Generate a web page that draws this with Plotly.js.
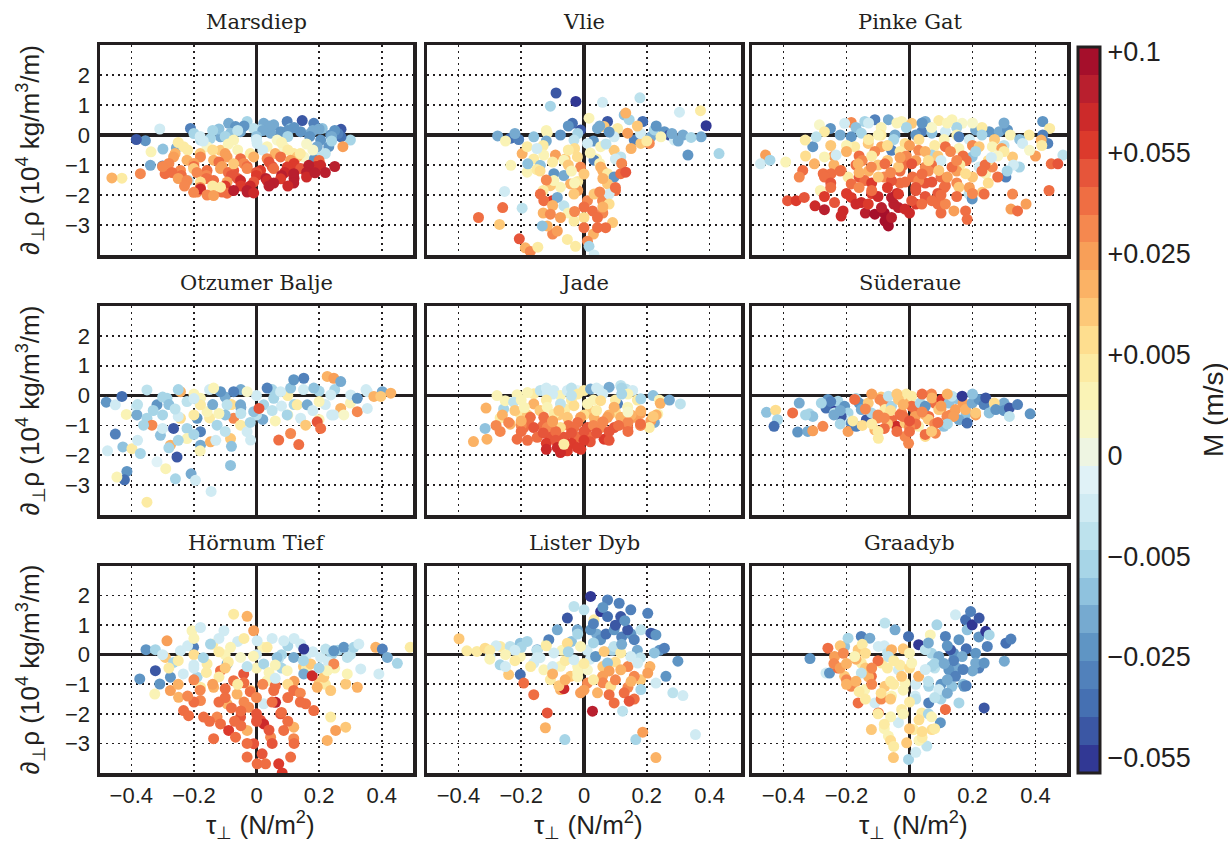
<!DOCTYPE html>
<html>
<head>
<meta charset="utf-8">
<script src="https://cdn.plot.ly/plotly-3.0.1.min.js"></script>
<style>html,body{margin:0;padding:0;background:#fff;}#chart{width:1228px;height:842px;}</style>
</head>
<body>
<div id="chart"></div>
<script>
// ---------------- DATA (tau_perp in N/m^2, d_perp rho in 1e4 kg/m3/m, colour level on colourbar scale) ----------------
const panelNames = ['Marsdiep','Vlie','Pinke Gat','Otzumer Balje','Jade','Süderaue','Hörnum Tief','Lister Dyb','Graadyb'];
// colourbar: level -3..4 correspond to these M values (m/s)
const cbLevels = [-3,-2,-1,0,1,2,3,4];
const cbLabels = ['\u22120.055','\u22120.025','\u22120.005','0','+0.005','+0.025','+0.055','+0.1'];
const bandColors = ['#a50f2b','#b91f2e','#cc2a2a','#dc3a2c','#e6553a','#ef6e43','#f5884f','#f89f58','#fbb265','#fdc878','#fede8f','#fceba3','#faf3b6','#f7f6c8','#eef5e2','#e0f2f7','#d0ebf3','#bde2ed','#a7d5e7','#8fc2de','#76aad0','#5f95c4','#5181bb','#4570b2','#3b57a4','#313894'];
const xTickVals = [-0.4,-0.2,0,0.2,0.4];
const xTickText = ['\u22120.4','\u22120.2','0','0.2','0.4'];
const yTickVals = [-3,-2,-1,0,1,2];
const yTickText = ['\u22123','\u22122','\u22121','0','1','2'];

const marsX = [-0.089,-0.067,-0.030,0.023,0.055,0.098,0.146,0.183,0.21,0.27,
 0.30,0.27,0.237,0.205,0.173,0.141,0.109,0.077,0.045,0.013,
 -0.009,-0.051,-0.083,-0.115,-0.147,-0.179,-0.211,-0.309,-0.355,-0.384,
 -0.299,-0.256,-0.339,-0.30,-0.217,0.189,0.194,0.183,0.231,
 -0.2,-0.12,-0.04,0.04,0.12,0.2,0.26,
 -0.14,-0.06,0.02,0.1,0.18,0.25,
 -0.18,-0.1,0.0,0.1,0.17,0.24,
 -0.073,0.002,0.034,0.087,0.119,0.151,-0.233,-0.158,-0.115,0.066,0.13,-0.337,-0.43,-0.462,-0.371,-0.292,0.276,
 -0.25,-0.17,-0.09,0.0,0.08,0.16,0.24,
 -0.22,-0.14,-0.06,0.02,0.1,0.18,
 -0.26,-0.18,-0.1,-0.02,0.06,0.14,0.22,
 -0.265,-0.222,-0.179,-0.137,-0.094,-0.051,-0.009,0.034,0.077,0.109,
 -0.28,-0.2,-0.12,-0.04,0.04,0.12,0.2,
 -0.3,-0.2,-0.11,-0.03,0.05,0.12,0.19,0.25,
 -0.243,-0.201,-0.158,-0.115,-0.073,-0.030,0.013,0.055,0.098,0.141,0.167,0.205,
 -0.27,-0.19,-0.09,0.0,0.09,0.16,0.22,
 -0.24,-0.16,-0.08,0.0,0.08,0.16,
 -0.25,-0.16,-0.06,0.03,0.12,
 -0.222,-0.179,-0.137,-0.094,-0.051,-0.009,0.034,0.077,0.119,0.187,0.119,0.055,
 -0.23,-0.14,-0.05,0.04,0.1,
 -0.18,-0.1,-0.02,
 -0.19,-0.11,-0.03,
 -0.179,-0.158,-0.137,-0.094,-0.073,-0.030,-0.009,-0.115,-0.201,-0.073];
const marsY = [0.39,0.28,0.45,0.39,0.34,0.45,0.48,0.39,0.22,0.19,
 -0.17,-0.06,0.0,-0.17,0.06,0.11,0.22,0.11,0.06,0.17,
 0.22,0.11,0.06,-0.06,-0.11,-0.17,0.22,0.2,-0.19,-0.15,
 -0.47,-0.43,-1.01,-1.03,-1.52,-0.62,-0.39,-0.82,-0.39,
 0.05,0.2,0.3,0.3,0.25,0.2,0.05,
 0.15,0.15,0.15,0.15,0.15,0.15,
 -0.05,-0.05,-0.05,-0.05,-0.05,-0.05,
 -0.17,-0.28,-0.39,-0.39,-0.62,-0.73,-0.39,-0.39,-0.51,-0.17,-0.73,-0.56,-1.44,-1.43,-1.29,-1.29,-0.39,
 -0.25,-0.2,-0.3,-0.15,-0.25,-0.3,-0.2,
 -0.5,-0.5,-0.5,-0.5,-0.5,-0.5,
 -0.62,-0.62,-0.62,-0.62,-0.62,-0.62,-0.62,
 -0.73,-0.84,-0.73,-0.84,-0.73,-0.79,-0.73,-0.79,-0.73,-0.84,
 -0.95,-0.95,-0.9,-0.95,-0.9,-0.95,-0.85,
 -1.05,-1.05,-1.05,-1.05,-1.05,-1.05,-1.05,-1.05,
 -1.18,-1.12,-1.18,-1.12,-1.18,-1.12,-1.18,-1.12,-1.07,-1.12,-1.01,-1.01,
 -1.25,-1.25,-1.25,-1.25,-1.25,-1.25,-1.25,
 -1.35,-1.35,-1.35,-1.35,-1.35,-1.4,
 -1.45,-1.45,-1.45,-1.45,-1.45,
 -1.52,-1.57,-1.52,-1.57,-1.52,-1.57,-1.52,-1.46,-1.29,-1.26,-1.6,-1.6,
 -1.7,-1.7,-1.7,-1.7,-1.7,
 -1.75,-1.7,-1.7,
 -1.9,-1.9,-1.9,
 -1.8,-2.0,-2.02,-1.94,-1.85,-1.85,-1.93,-1.74,-1.91,-0.96];
const marsC = [-1.5,-1.8,-1.2,-1.7,-1.5,-2.2,-2.8,-2.3,-1.3,-2.7,
 -1.0,-2.4,-2.0,-1.8,-1.6,-2.0,-1.4,-1.9,-1.6,-1.2,
 -0.8,-1.7,-1.3,-1.6,-1.2,-0.8,-2.2,-0.6,-1.9,-2.6,
 -1.4,-1.5,-1.5,-2.3,-0.7,-0.8,-1.6,-2.0,-1.9,
 -1.0,-1.4,-1.8,-1.5,-2.0,-1.7,-2.2,
 -1.2,-0.8,-1.5,-2.0,-1.7,-2.0,
 -0.6,-1.0,-1.4,-1.2,-1.9,-1.6,
 0.6,-0.4,0.5,0.3,0.8,0.4,1.0,0.4,1.3,0.2,1.5,0.6,0.8,1.8,2.2,2.4,2.0,
 0.8,-0.5,0.6,-0.6,0.5,0.3,-1.2,
 0.8,1.2,0.6,-0.6,0.9,0.4,
 1.8,1.5,2.0,1.0,1.6,0.8,-0.8,
 2.0,1.6,2.3,1.8,2.1,2.5,1.7,2.3,2.6,2.0,
 2.2,2.0,2.5,2.3,2.8,3.0,2.6,
 2.2,2.4,2.0,2.6,2.8,3.0,3.3,3.6,
 2.3,1.5,2.6,2.0,2.8,2.2,3.0,2.5,3.2,2.7,3.5,3.3,
 2.5,2.2,2.4,2.8,3.3,3.5,3.7,
 2.4,2.2,2.7,3.2,3.5,3.3,
 2.0,2.6,2.8,3.5,3.7,
 2.2,1.2,2.4,2.0,3.3,2.8,3.4,3.0,3.6,3.7,3.7,3.6,
 2.3,1.0,3.0,3.6,3.4,
 2.3,3.0,3.4,
 2.2,2.5,3.6,
 3.3,2.3,2.0,2.5,3.5,3.6,3.4,1.0,2.3,1.5];

const vlieX = [-0.089,-0.026,-0.107,0.059,0.178,0.371,0.304,0.389,0.43,0.331,
 0.373,-0.275,-0.235,-0.208,-0.16,-0.117,-0.075,-0.037,-0.011,0.016,
 0.043,0.075,0.107,0.128,0.144,0.16,0.187,0.213,0.224,0.256,
 0.272,0.288,0.315,0.341,0.133,0.064,0.096,0.139,0.181,0.208,
 -0.22,-0.12,-0.02,0.08,0.18,0.28,
 -0.05,0.05,0.17,0.23,
 -0.25,-0.12,0.03,0.2,0.3,
 0.245,-0.032,0.011,0.053,0.096,0.117,-0.197,-0.181,-0.233,-0.181,
 -0.13,-0.03,0.07,0.15,
 -0.16,-0.06,0.04,0.1,
 -0.179,-0.139,-0.128,-0.091,-0.064,-0.096,-0.064,-0.021,-0.011,0.032,
 -0.15,-0.05,0.05,0.12,
 -0.14,-0.04,0.06,
 0.053,0.075,0.096,0.117,0.133,0.075,-0.043,-0.075,-0.107,-0.096,
 -0.12,-0.02,0.06,
 -0.13,-0.02,0.1,
 -0.139,-0.101,-0.128,-0.085,-0.064,-0.032,0.011,0.032,0.059,0.08,
 -0.1,0.0,0.08,
 -0.13,-0.05,0.06,
 -0.1,0.03,
 0.027,0.043,0,-0.032,-0.075,-0.107,-0.117,-0.085,-0.053,-0.027,
 0.011,0.016,0.032,0.091,0.069,0.043,0,-0.336,-0.269,-0.259,
 -0.253,-0.197,-0.206,-0.187,-0.171,-0.147,-0.133,-0.15,-0.05,0.02,
 -0.1,0,0.05,-0.03,0.1,0.06,-0.03];
const vlieY = [1.40,1.12,0.96,1.09,1.24,0.81,0.76,0.31,-0.62,-0.67,
 -0.06,-0.03,-0.11,-0.15,-0.06,0.06,0,0.39,0.17,0.56,
 0.22,0.45,0.22,0.67,0.51,-0.17,0.45,-0.06,0.17,0.11,
 0,-0.17,0,-0.08,0.73,0.28,-0.06,0.06,-0.28,-0.28,
 0.05,0.15,0.05,0.1,0.05,0.05,
 0.3,0.3,0.3,0.3,
 -0.2,-0.2,-0.2,-0.2,-0.2,
 -0.06,-0.17,-0.28,-0.39,-0.51,-0.73,-0.62,-0.39,-1.01,-1.24,
 -0.35,-0.45,-0.3,-0.45,
 -0.8,-0.8,-0.8,-0.8,
 -0.96,-1.01,-0.67,-0.67,-0.84,-1.29,-1.35,-0.73,-1.07,-0.84,
 -1.15,-1.0,-0.95,-0.95,
 -1.2,-1.2,-1.2,
 -1.07,-1.29,-1.4,-1.29,-1.24,-1.63,-1.63,-1.74,-1.69,-1.52,
 -1.5,-1.55,-1.45,
 -1.85,-1.85,-1.85,
 -1.97,-2.19,-2.19,-2.08,-2.36,-1.97,-2.19,-1.97,-2.19,-1.97,
 -2.35,-2.4,-2.3,
 -2.6,-2.6,-2.6,
 -3.3,-3.3,
 -2.53,-2.75,-2.75,-2.87,-2.75,-2.64,-3.03,-3.2,-3.48,-3.71,
 -3.54,-3.71,-4.0,-2.92,-3.09,-3.09,-3.09,-2.75,-2.98,-2.42,
 -1.88,-2.44,-3.46,-3.76,-3.88,-3.74,-3.03,-0.45,-0.5,-0.6,
 -0.9,-1.3,-1.9,-1.6,-1.75,-2.4,-2.55];
const vlieC = [-2.8,-3.0,-1.0,-0.6,-0.9,0.8,-0.4,-3.0,-1.0,-1.8,
 -1.5,-1.7,-2.5,-2.3,-1.3,0.7,-1.8,-2.4,-2.6,0.6,
 -1.5,-2.7,0.8,-1.4,-1.0,-2.2,-2.5,-1.6,-1.0,-2.0,
 -2.8,-0.4,-1.7,-1.2,1.8,1.3,-0.5,2.0,1.4,2.3,
 -1.5,0.6,-1.2,-2.0,-0.6,-1.5,
 -2.0,-1.5,1.5,-1.8,
 0.6,-1.5,-2.0,1.0,-1.6,
 0.5,-0.8,-0.5,0.6,1.5,-0.8,1.8,0.9,0.7,0.6,
 0.8,1.2,-0.8,1.8,
 0.8,1.5,0.6,-0.6,
 -1.4,-1.3,0.7,2.1,0.5,-2.0,-1.5,1.2,2.2,-2.2,
 1.0,1.5,0.6,2.3,
 1.2,0.6,1.8,
 1.6,0.8,-2.0,2.6,2.7,1.5,1.8,0.6,1.5,0.5,
 2.2,0.8,1.8,
 0.8,2.0,2.4,
 2.4,3.0,2.5,-1.5,-0.7,1.3,2.2,1.5,2.3,-0.6,
 1.6,2.4,1.2,
 1.6,0.6,2.2,
 2.2,1.6,
 2.4,2.5,1.2,1.0,2.0,2.3,1.6,2.1,0.8,0.9,
 2.3,-1.0,-0.6,1.4,2.4,2.6,2.6,2.4,1.3,2.5,
 -0.6,-0.9,2.8,1.8,2.2,1.0,-1.3,-0.6,1.0,0.7,
 1.0,1.4,2.2,0.6,2.4,1.8,2.3];

const pinkX = [-0.286,-0.251,-0.27,-0.307,-0.296,-0.331,-0.185,-0.206,-0.142,-0.11,
 -0.067,-0.025,0.007,0.05,0.093,0.135,0.167,0.21,0.253,0.285,
 0.311,0.423,0.445,0.423,0.439,0.418,0.487,0.039,0.071,0.114,
 -0.17,-0.09,-0.01,0.07,0.15,0.23,
 -0.13,-0.04,0.04,0.12,0.2,0.3,
 -0.22,-0.09,0.02,0.15,0.23,0.32,0.38,
 0.157,-0.046,-0.099,-0.153,-0.185,-0.174,-0.131,-0.089,-0.057,-0.014,
 -0.13,-0.05,0.03,0.11,0.19,0.27,0.35,
 -0.25,-0.2,-0.07,0.0,0.08,0.2,0.3,0.42,
 0.029,0.071,0.114,0.157,0.199,0.221,0.263,0.293,0.327,0.359,
 -0.2,-0.11,-0.03,0.05,0.13,0.21,0.3,
 -0.33,-0.24,-0.16,-0.01,0.09,0.17,0.28,0.4,
 0.381,0.349,0.306,0.242,0.221,0.263,-0.457,-0.473,-0.443,-0.393,
 -0.15,-0.07,0.02,0.1,0.18,0.25,
 -0.24,-0.17,-0.1,-0.02,0.07,0.16,0.24,0.33,
 -0.339,-0.302,-0.27,-0.233,-0.274,-0.249,-0.283,-0.217,-0.195,-0.163,
 -0.22,-0.13,-0.03,0.06,0.15,0.23,0.31,
 -0.35,-0.27,-0.16,-0.08,0.01,0.1,0.2,0.28,
 -0.121,-0.078,-0.035,0.007,0.05,0.093,0.135,0.178,-0.185,-0.142,
 -0.25,-0.12,-0.03,0.05,0.15,0.25,
 -0.099,-0.057,-0.014,0.029,0.071,0.114,0.157,0.189,0.199,0.231,
 -0.25,-0.16,-0.07,0.02,0.11,0.19,
 -0.2,-0.12,-0.04,0.09,0.2,
 0.237,-0.387,-0.36,-0.334,-0.3,-0.27,-0.238,-0.211,-0.217,-0.185,
 -0.27,-0.1,0.05,0.15,
 -0.17,-0.05,0.02,0.09,
 -0.14,-0.08,0.0,0.1,
 -0.153,-0.131,-0.11,-0.089,-0.078,-0.067,-0.057,-0.035,-0.014,-0.057,
 -0.035,0.007,0.039,0.071,0.114,0.141,0.178,0.183,0.327,0.322,
 0.343,0.37,0.443,0.45,0.471,-0.12,-0.03,0.06,0.15,-0.16,
 -0.06,0.04,0.12,-0.12,0.02,0.1,0.26];
const pinkY = [0.34,0.22,0.11,-0.39,-0.06,-0.17,0.42,0.39,0.45,0.51,
 0.51,0.45,0.39,0.45,0.48,0.51,0.39,0.17,0.11,0.11,
 0.17,0.45,0.22,0,-0.28,-0.17,-0.67,0.11,0.06,0.11,
 0.25,0.25,0.25,0.25,0.25,0.25,
 0.4,0.4,0.4,0.4,0.4,0.4,
 0.0,0.0,0.0,0.0,0.0,0.0,0.0,
 -0.06,0,0,0.06,-0.06,-0.39,-0.28,-0.39,-0.51,-0.28,
 -0.15,-0.15,-0.15,-0.15,-0.15,-0.15,-0.15,
 -0.35,-0.35,-0.35,-0.35,-0.35,-0.35,-0.35,-0.35,
 -0.51,-0.67,-0.39,-0.45,-0.73,-0.39,-0.39,-0.45,-0.73,-0.28,
 -0.55,-0.55,-0.55,-0.55,-0.55,-0.55,-0.55,
 -0.7,-0.7,-0.7,-0.7,-0.7,-0.7,-0.7,-0.7,
 -0.51,-1.07,-1.4,-1.29,-1.07,-1.07,-0.67,-0.96,-0.84,-0.9,
 -0.85,-0.85,-0.85,-0.85,-0.85,-0.85,
 -1.0,-1.0,-1.0,-1.0,-1.0,-1.0,-1.0,-1.0,
 -1.18,-0.96,-0.73,-0.67,-1.29,-1.29,-1.85,-1.18,-1.4,-0.96,
 -1.2,-1.2,-1.2,-1.2,-1.2,-1.2,-1.2,
 -1.4,-1.4,-1.4,-1.4,-1.4,-1.4,-1.4,-1.4,
 -1.07,-0.96,-1.07,-0.96,-1.07,-1.18,-1.07,-1.29,-1.63,-1.52,
 -1.6,-1.6,-1.6,-1.6,-1.6,-1.6,
 -1.4,-1.52,-1.57,-1.52,-1.57,-1.69,-1.74,-1.97,-2.13,-1.91,
 -1.75,-1.75,-1.75,-1.75,-1.75,-1.75,
 -1.95,-1.95,-1.95,-1.95,-1.95,
 -1.97,-2.19,-2.19,-2.08,-2.36,-2.49,-2.25,-2.53,-2.7,-2.08,
 -2.05,-2.05,-2.05,-2.05,
 -2.3,-2.3,-2.3,-2.3,
 -2.6,-2.6,-2.6,-2.6,
 -2.25,-2.3,-2.64,-2.42,-2.87,-3.03,-2.75,-2.42,-2.47,-2.08,
 -1.97,-2.19,-2.3,-2.19,-2.3,-2.53,-2.53,-2.81,-1.97,-2.47,
 -2.53,-2.3,-1.85,-0.96,-0.96,-0.7,-0.75,-0.85,-0.85,-1.25,
 -1.25,-1.3,-1.4,-1.85,-1.85,-2.0,-0.75];
const pinkC = [0.2,-2.0,0.8,-2.0,-0.8,0.8,2.3,-0.5,-1.2,-2.2,
 -1.5,0.5,1.3,-1.7,1.0,0.6,0.4,-1.5,-1.8,-1.6,
 -2.0,-1.8,1.0,-2.3,-2.2,1.6,-0.8,-2.2,-1.3,-0.5,
 -1.3,0.5,-1.0,0.4,-1.2,0.8,
 -0.5,0.6,-1.8,0.5,0.3,-1.5,
 -1.5,0.8,-2.0,0.6,-1.0,0.5,0.8,
 -2.3,-1.5,0.5,-1.0,-2.0,1.0,1.5,2.0,-2.2,1.2,
 0.8,-1.0,1.2,0.5,-0.6,1.4,-1.4,
 1.5,0.6,1.2,2.0,1.0,2.2,-0.8,1.0,
 2.2,-1.0,2.5,0.6,-1.4,1.3,0.5,2.0,1.5,-0.6,
 1.8,2.3,1.0,1.6,2.2,-1.0,1.0,
 1.2,2.0,2.5,2.2,1.4,2.6,0.4,2.0,
 0.4,-1.0,-2.3,0.5,-0.6,2.3,2.0,-0.6,-1.0,0.5,
 2.2,1.5,2.0,-0.5,2.4,1.2,
 1.8,2.6,1.5,2.4,2.6,0.8,2.4,-0.5,
 2.4,1.7,0.6,-0.4,2.4,2.6,0.7,2.2,0.8,1.7,
 2.5,1.8,2.6,2.2,2.0,2.5,-1.2,
 2.3,2.6,2.8,2.3,2.6,2.4,1.5,2.6,
 2.2,2.5,1.5,2.7,2.2,1.5,2.6,1.2,2.6,2.4,
 2.8,3.0,2.6,2.9,2.3,1.2,
 1.3,2.9,2.5,2.2,2.7,2.5,1.5,-0.7,-2.0,1.4,
 2.6,2.2,3.0,2.7,2.4,2.1,
 3.2,3.0,3.4,2.7,2.2,
 2.4,2.7,3.0,2.8,3.4,3.5,2.9,3.3,3.4,3.2,
 3.2,3.4,2.8,2.5,
 3.3,3.7,3.2,2.6,
 3.5,3.8,3.4,2.5,
 3.3,3.0,3.9,3.5,3.8,3.9,3.7,3.6,3.3,3.5,
 3.0,2.7,2.5,2.4,2.3,2.1,2.6,2.5,2.3,2.0,
 2.6,2.0,2.5,2.6,2.8,1.0,2.0,1.2,2.2,1.8,
 2.3,2.6,2.0,2.6,2.8,2.6,-0.6];

const otzX = [-0.48,-0.451,-0.43,-0.416,-0.384,-0.382,-0.35,-0.35,-0.334,-0.361,
 -0.451,-0.427,-0.476,-0.398,-0.371,-0.414,-0.422,-0.446,-0.35,-0.318,
 -0.29,-0.254,-0.259,-0.209,-0.195,-0.145,-0.083,-0.318,-0.286,-0.243,
 -0.3,-0.2,-0.1,0.0,0.1,0.2,0.3,
 -0.25,-0.15,-0.05,0.05,0.15,0.25,0.35,
 -0.222,-0.179,-0.307,-0.265,-0.275,-0.243,-0.222,-0.222,-0.19,-0.179,
 -0.33,-0.25,-0.15,-0.05,0.08,0.2,
 -0.38,-0.28,-0.18,-0.08,0.12,0.22,
 -0.179,-0.147,-0.158,-0.126,-0.115,-0.094,-0.083,-0.073,-0.051,-0.03,
 -0.3,-0.2,-0.1,0.02,-0.28,-0.18,-0.08,
 -0.3,-0.2,-0.1,0.0,0.1,0.24,
 -0.38,-0.25,-0.13,
 -0.019,-0.051,-0.03,-0.009,-0.073,-0.137,-0.179,0.023,0.008,0.034,
 0.055,0.077,0.098,0.109,0.119,0.151,0.13,0.141,0.157,0.183,
 0.194,0.205,0.162,0.109,0.135,0.071,0.226,0.247,0.269,0.237,
 0.269,0.247,0.279,0.301,0.322,0.322,0.354,0.354,0.375,0.402,
 0.429,0.397,-0.26,-0.2,-0.12,-0.05,0.05,0.06,0.18,0.2,
 -0.02,-0.14];
const otzY = [-0.22,-0.31,-0.03,-0.63,-0.37,-0.65,0.19,-0.76,-0.99,-0.99,
 -1.29,-1.72,-1.85,-1.78,-1.94,-2.54,-2.82,-2.73,-3.57,-2.22,
 -2.45,-2.06,-2.79,-2.62,-2.84,-3.21,-2.34,-0.31,-0.09,0.13,
 -0.05,0.05,-0.05,0.0,0.0,0.15,-0.25,
 0.2,0.2,0.2,0.2,0.2,0.2,0.2,
 -0.2,-0.09,-1.33,-1.1,-1.66,-0.76,-1.1,-1.44,-0.76,-1.21,
 -0.5,-0.7,-0.75,-0.4,-0.35,-0.8,
 -0.3,-0.3,-0.3,-0.3,-0.3,-0.3,
 -1.66,-1.55,-0.54,-0.99,0.13,-0.31,-1.44,-0.76,-0.99,-1.21,
 -1.1,-1.3,-1.2,-0.8,-1.75,-1.85,-1.7,
 -0.65,-0.65,-0.65,-0.65,-0.65,-0.65,
 -1.5,-1.5,-1.5,
 -1.49,-0.31,0.13,-0.54,0.13,0.25,-0.31,-0.31,-0.43,0.25,
 -0.09,0.13,-0.65,0.25,0.53,0.58,-0.31,-0.76,-0.99,0.25,
 -0.88,-1.1,-0.31,-1.27,-1.64,-1.49,0.64,0.58,0.47,0.02,
 -0.43,-0.65,-0.65,0.02,-0.54,-0.09,-0.43,0.13,-0.03,0.13,
 0.08,-0.03,-0.45,-0.1,-0.6,-0.6,-0.5,-0.85,-0.5,-0.2,
 -0.9,-0.3];
const otzC = [-2.0,-0.6,-2.5,0.5,-0.5,-1.5,-0.8,-1.2,2.2,-1.0,
 -2.3,-1.3,-0.5,0.8,-1.0,-2.0,-2.4,0.6,0.8,-0.3,
 0.7,-2.6,-1.0,-1.6,-0.6,-0.6,-1.4,-1.8,-1.2,1.6,
 -1.0,0.5,-1.5,-0.6,0.8,-1.0,0.5,
 -1.0,-0.6,-1.6,-1.2,-0.5,-1.0,-0.6,
 -0.8,0.5,-1.4,-2.6,1.8,1.2,-1.0,0.5,-1.8,-2.3,
 -1.2,-0.5,0.9,-1.6,-0.5,0.6,
 -0.8,-1.4,-0.6,1.2,-1.0,-0.6,
 -1.6,1.7,0.6,-1.2,-2.0,-0.8,1.5,2.2,0.8,-0.5,
 -0.5,-1.2,-0.7,-1.5,-1.0,0.6,-1.4,
 -1.0,0.8,-1.4,-0.8,0.6,-0.6,
 -0.6,-1.2,-0.5,
 -0.6,-1.5,0.4,-1.3,-2.2,0.6,1.0,-1.0,2.7,-2.3,
 -1.2,-0.6,-1.0,-1.3,-2.0,-2.3,0.8,-0.4,1.5,-1.4,
 2.7,2.5,-1.7,2.3,2.6,2.4,1.8,2.0,-1.5,-0.5,
 1.7,-0.5,0.3,-0.4,2.3,-2.0,-0.6,-0.6,1.6,-1.7,
 1.6,1.3,-0.7,-0.5,0.5,-0.7,-0.8,0.7,-0.6,0.6,
 -1.0,-1.5];

const jadeX = [-0.352,-0.309,-0.315,-0.312,-0.267,-0.267,-0.256,-0.277,-0.251,-0.213,
 -0.224,-0.213,-0.235,-0.203,-0.192,-0.16,-0.139,-0.117,-0.096,-0.075,
 -0.053,-0.021,0,0.021,0.053,0.08,0.117,0.133,0.155,0.107,
 -0.12,-0.04,0.04,0.12,
 -0.18,-0.1,-0.02,0.06,0.14,0.22,
 -0.2,-0.12,-0.04,0.03,0.1,0.17,0.24,
 0.181,0.243,0.272,0.307,0.235,0.224,0.213,0.208,0.16,-0.16,
 -0.22,-0.14,-0.06,0.02,0.1,0.18,
 -0.26,-0.18,-0.08,0.0,0.08,0.15,0.23,
 -0.117,-0.075,-0.032,0.011,0.053,0.096,0.139,0.181,-0.171,-0.128,
 -0.096,-0.053,-0.011,0.032,0.075,0.117,0.139,0.096,0.053,0.011,
 -0.24,-0.18,-0.1,-0.02,0.06,0.14,0.22,
 -0.28,-0.2,-0.13,-0.05,0.03,0.11,0.18,
 -0.032,-0.075,-0.117,-0.16,-0.149,-0.107,-0.064,-0.021,0.021,0.064,
 -0.2,-0.09,0.0,0.08,0.14,
 -0.13,-0.04,0.04,-0.12,-0.04,0.02,
 -0.18,-0.09,0.0,0.08,
 -0.12,-0.01,
 -0.085,-0.053,-0.021,-0.075,-0.064,-0.19,-0.08,0.04,0.14,-0.2,
 0.06,-0.1,0.12,-0.04,0.18];
const jadeY = [-1.54,-1.46,-1.1,-0.42,-0.75,-1.2,-0.45,0,-0.17,0.03,
 -0.22,-1.46,-0.96,-0.62,-1.07,0.06,0.17,0.06,0.17,0,
 0.17,0.17,0.17,0.22,0.17,0.28,0.34,0.22,0.17,-0.28,
 0.25,0.25,0.25,0.25,
 0.1,0.05,0.05,0.05,0.05,0.0,
 -0.15,-0.15,-0.15,-0.15,-0.15,-0.15,-0.15,
 -0.11,-0.26,-0.15,-0.28,-0.62,-0.9,-0.84,-1.07,-0.73,-0.28,
 -0.5,-0.5,-0.45,-0.5,-0.55,-0.6,
 -0.65,-0.65,-0.65,-0.65,-0.65,-0.65,-0.65,
 -0.39,-0.28,-0.34,-0.28,-0.17,-0.39,-0.39,-0.51,-0.73,-0.73,
 -0.62,-0.73,-0.73,-0.73,-0.73,-0.73,-1.07,-1.07,-1.07,-1.07,
 -0.9,-0.9,-0.85,-0.9,-0.88,-0.9,-0.7,
 -1.0,-1.0,-1.0,-1.0,-1.0,-1.0,-1.0,
 -1.07,-1.07,-1.07,-1.07,-1.4,-1.4,-1.4,-1.4,-1.4,-1.46,
 -1.2,-1.2,-1.2,-1.2,-1.2,
 -1.25,-1.25,-1.25,-1.6,-1.6,-1.55,
 -1.5,-1.5,-1.5,-1.5,
 -1.8,-1.8,
 -1.74,-1.85,-1.74,-1.91,-1.63,-0.4,-0.5,-0.5,-0.55,-0.85,
 -0.9,-0.88,0.05,0,-0.95];
const jadeC = [1.7,1.7,-1.3,1.6,0.8,2.3,-1.1,0.7,0.5,0.6,
 -0.8,2.4,1.7,0.9,2.6,1.0,-0.9,-0.4,-0.6,0.6,
 -0.5,-0.3,1.0,-1.7,-0.6,-1.5,-0.9,-0.7,-0.6,-2.2,
 -0.6,-0.8,-0.5,-1.2,
 0.6,-0.6,0.8,-0.4,0.5,-1.3,
 0.6,0.8,1.0,0.5,1.0,0.8,0.6,
 -1.0,1.8,-1.5,-0.7,0.7,-1.6,2.1,0.8,1.9,1.8,
 1.3,1.5,0.8,1.5,1.2,2.0,
 1.6,1.3,1.5,1.2,1.8,1.6,1.8,
 0.5,-0.7,1.2,0.6,1.2,1.6,0.6,1.8,2.4,2.6,
 0.8,1.3,2.0,1.7,2.1,1.8,2.4,2.7,2.2,2.8,
 2.2,2.4,2.0,2.6,2.3,2.2,1.4,
 2.3,2.2,2.4,2.6,2.3,2.6,2.2,
 2.5,1.2,2.3,2.7,2.5,2.7,2.9,2.6,2.5,3.0,
 2.6,2.4,2.7,2.8,2.6,
 2.8,2.7,2.9,3.2,3.1,2.9,
 2.5,2.8,3.0,2.9,
 3.3,3.1,
 3.3,3.2,3.0,3.4,1.0,0.5,1.5,0.8,0.4,1.8,
 2.3,2.0,-1.2,-0.8,2.5];

const sudX = [-0.454,-0.425,-0.419,-0.43,-0.371,-0.355,-0.318,-0.307,-0.323,-0.307,
 -0.275,-0.259,-0.243,-0.265,-0.227,-0.238,-0.206,-0.195,-0.206,-0.217,
 -0.25,-0.17,-0.09,-0.01,0.07,0.15,0.23,
 -0.35,-0.28,-0.16,-0.08,0.0,0.08,0.17,0.3,
 -0.185,-0.195,-0.174,-0.169,-0.153,-0.137,-0.131,-0.121,-0.11,-0.099,
 -0.094,-0.078,-0.067,-0.057,-0.057,-0.041,-0.035,-0.025,-0.014,-0.003,
 -0.22,-0.14,-0.06,0.02,0.1,0.18,0.26,
 -0.33,-0.24,-0.1,-0.03,0.05,0.13,0.21,
 -0.014,0.007,0.007,0.018,0.029,0.034,0.05,0.05,0.061,0.071,
 0.082,0.093,0.103,0.109,0.119,0.125,0.135,0.146,0.157,0.167,
 -0.18,-0.1,-0.02,0.06,0.14,
 -0.22,-0.07,0.02,0.08,
 0.178,0.183,0.199,0.21,0.221,0.237,0.242,0.253,0.269,0.274,
 -0.08,0.0,0.05,-0.15,0.12,0.3,
 -0.1,0.0,0.07,
 -0.12,-0.04,0.04,0.12,0.2,
 0.317,0.343,0.317,0.383,-0.08,-0.02,0.04,0.09,-0.04,0,
 0.1,-0.12];
const sudY = [-0.56,-0.49,-0.81,-1.03,-0.58,-1.22,-0.61,-0.7,-1.2,-1.18,
 -1.03,-0.13,-0.3,-0.42,-0.19,-0.58,-0.36,-0.58,-0.81,-0.7,
 -0.2,-0.1,-0.05,0.05,0.05,-0.1,-0.15,
 -0.25,-0.25,-0.25,-0.25,-0.25,-0.25,-0.25,-0.25,
 -0.92,-1.2,-0.13,-1.03,-0.47,-0.81,-0.25,-0.58,-1.15,-1.43,
 -0.13,-0.47,-0.02,-0.81,-0.36,-1.03,-0.13,-0.58,-1.37,-1.6,
 -0.5,-0.45,-0.5,-0.55,-0.45,-0.6,-0.4,
 -0.65,-0.65,-0.65,-0.65,-0.65,-0.65,-0.65,
 -0.92,-0.02,-0.36,-0.7,-1.03,-0.25,-0.36,-1.37,-0.7,-0.08,
 -1.26,-0.47,-0.13,-1.03,-0.7,-0.25,-0.02,-0.47,-0.81,-0.02,
 -0.85,-0.75,-0.7,-0.8,-0.7,
 -0.95,-0.95,-0.95,-0.95,
 -0.47,-0.92,-0.25,-0.58,-0.13,-0.3,-0.08,-0.58,-0.25,-0.47,
 -1.1,-1.05,-1.3,-1.0,-0.95,-0.5,
 -1.2,-1.2,-1.2,
 0.05,0.05,0.05,0.05,0.05,
 -0.42,-0.3,-0.7,-0.61,-0.75,-0.3,-0.55,-0.9,-1.2,-0.85,
 -0.35,-0.95];
const sudC = [-1.3,1.2,-1.2,-2.4,2.4,-1.9,-1.0,-1.4,-1.6,2.0,
 2.3,-2.0,-3.0,-2.4,-1.2,-0.8,-2.0,-1.0,-0.6,-2.6,
 -2.2,-1.2,1.5,1.0,2.3,-1.3,-2.0,
 -1.6,-1.0,-2.0,2.2,1.6,2.5,2.0,-1.6,
 -2.2,2.0,2.4,-2.3,-1.5,-2.8,1.3,-1.0,1.8,0.8,
 2.2,1.0,-0.7,2.5,-1.2,3.3,1.5,2.2,2.3,2.2,
 -1.6,2.2,1.2,2.6,1.9,-1.4,-1.2,
 -1.0,-1.6,2.2,2.5,1.8,2.3,2.0,
 1.4,0.8,2.6,2.0,0.6,-1.0,-1.8,1.2,2.4,1.7,
 2.3,1.4,3.2,-1.4,2.2,-1.3,-0.9,2.0,-1.6,-2.9,
 1.0,2.3,2.6,1.5,2.0,
 -1.2,1.5,2.5,2.2,
 1.6,-2.4,-1.5,1.5,-1.8,-2.3,-2.7,-1.3,1.1,-1.8,
 2.5,2.2,2.6,1.2,-1.0,-2.0,
 0.8,2.4,1.5,
 2.0,1.3,2.4,1.6,-1.4,
 -2.8,-2.2,-0.7,-2.0,2.3,1.8,2.2,2.4,2.4,2.7,
 2.0,1.0];

const hornX = [-0.373,-0.353,-0.323,-0.323,-0.309,-0.325,-0.286,-0.291,-0.275,-0.275,
 -0.265,-0.249,-0.243,-0.234,-0.233,-0.217,-0.206,-0.201,-0.19,-0.179,
 -0.22,-0.14,-0.06,0.02,0.1,0.18,0.26,
 -0.2,-0.12,-0.04,0.05,0.12,
 -0.3,-0.2,-0.1,0.0,0.08,0.16,0.24,0.3,
 -0.179,-0.179,-0.169,-0.158,-0.147,-0.137,-0.137,-0.126,-0.115,-0.115,
 -0.104,-0.094,-0.094,-0.089,-0.083,-0.073,-0.073,-0.067,-0.062,-0.051,
 -0.25,-0.17,-0.09,-0.01,0.07,0.15,0.23,
 -0.28,-0.2,-0.1,0.0,0.08,0.16,0.25,
 -0.051,-0.041,-0.03,-0.03,-0.03,-0.025,-0.019,-0.009,0.002,-0.009,
 0.002,0.013,0.018,0.023,0.023,0.023,0.029,0.034,0.034,0.045,
 -0.2,-0.12,-0.04,0.04,0.12,0.2,
 -0.25,-0.14,-0.06,0.02,0.1,0.22,
 0.055,0.061,0.066,0.071,0.077,0.082,0.087,0.087,0.098,0.109,
 0.119,0.119,0.119,0.119,0.141,0.151,0.151,0.157,0.173,0.178,
 -0.18,-0.1,-0.02,0.06,0.14,
 -0.2,-0.12,-0.04,0.05,0.14,
 0.183,0.194,0.205,0.215,0.221,0.237,0.237,0.247,0.247,0.285,
 0.279,0.29,0.311,0.322,0.327,0.29,0.333,0.226,0.253,0.285,
 -0.08,0.0,0.08,-0.05,0.04,
 -0.15,-0.07,0.0,0.1,
 -0.03,0.05,0.12,
 0.226,0.381,0.402,0.418,0.45,0.391,0.491,-0.2,-0.12,-0.03,
 0.06,0.15,-0.22,-0.1,0,0.1,-0.05,0.06,-0.16,0.2];
const hornY = [-0.82,0.17,0.17,-0.54,-0.99,-1.33,0.47,-0.09,-0.76,-1.21,
 -0.26,-1.44,0.13,-0.65,-1.89,-2.06,0.81,0.25,-0.76,0.92,
 0.3,0.35,0.45,0.25,0.3,0.1,0.15,
 0.55,0.55,0.55,0.55,0.55,
 0.0,0.0,0.0,0.0,0.0,0.0,0.0,0.0,
 -1.1,-1.55,-2.11,-0.31,0.36,-1.1,-2.84,-2.11,-0.54,-2.34,
 0.81,-0.31,-1.66,-2.56,0.25,1.37,-0.88,-2.79,-1.33,-2.11,
 -0.2,-0.1,-0.25,-0.05,-0.15,-0.4,-0.25,
 -0.45,-0.45,-0.45,-0.45,-0.45,-0.45,-0.45,
 -0.09,-0.65,1.3,-3.46,-2.56,-1.78,-1.21,0.81,0.47,-3.01,
 -3.69,-2.22,-3.35,-0.31,-1.66,-2.34,-3.69,0.25,-0.88,-2.79,
 -0.85,-0.75,-0.95,-0.6,-0.9,-0.95,
 -1.0,-1.0,-1.0,-1.0,-1.0,-1.0,
 -1.21,-1.61,-0.09,-3.69,-2.0,-4.0,0.47,-2.56,-0.54,-3.46,
 -0.09,-2.45,-1.21,-2.84,0.36,0.19,-0.65,-1.66,-0.31,-0.71,
 -1.2,-1.15,-1.25,-1.05,-1.3,
 -1.6,-1.6,-1.6,-1.6,-1.6,
 -1.89,-1.1,-0.09,-0.76,0.19,-1.21,-2.11,-0.31,0.13,-0.99,
 0.25,-0.09,0.25,-1.1,0.36,-0.65,-0.48,-2.9,-2.56,-2.45,
 -1.8,-2.0,-1.95,-2.4,-2.55,
 -2.25,-2.25,-2.25,-2.25,
 -3.0,-3.0,-3.0,
 -0.54,0.25,0.19,-0.09,-0.29,-0.65,0.25,-0.35,0.1,-0.4,
 -0.35,-0.2,-1.4,-1.45,-1.45,-1.45,-1.9,-0.8,-0.6,-0.45];
const hornC = [-2.0,-2.0,-1.2,-2.6,-2.0,0.6,2.0,1.5,-2.0,2.0,
 -1.2,1.6,-0.6,-0.4,2.5,2.4,0.6,-2.3,-1.0,-0.5,
 -0.5,0.8,-0.4,0.6,-1.0,-0.6,-1.2,
 0.6,-0.6,1.0,-0.5,-0.6,
 -0.6,1.2,0.6,-0.5,-1.0,-0.6,-1.2,-0.8,
 1.0,2.3,2.6,0.8,-1.0,1.6,2.6,2.3,2.4,2.6,
 -0.4,-1.5,1.8,3.2,0.6,0.8,2.4,2.5,1.6,2.8,
 0.8,-1.2,1.0,0.5,-0.8,1.3,-0.5,
 1.0,-0.4,1.4,0.6,-1.0,0.8,0.6,
 0.4,2.7,1.8,2.6,1.8,2.2,1.4,2.0,-0.4,2.7,
 2.6,2.8,2.7,-1.0,-0.5,3.3,2.6,1.0,0.6,2.3,
 2.2,1.0,2.4,0.6,2.0,1.5,
 1.6,2.0,1.0,2.2,1.2,1.0,
 2.4,3.5,-1.3,3.0,2.8,3.2,-0.6,2.5,0.5,2.6,
 -1.7,1.6,2.6,2.3,-0.6,-3.0,-1.5,2.5,1.4,3.3,
 2.3,2.6,2.5,2.4,2.2,
 2.5,2.4,2.2,2.6,2.4,
 2.6,1.7,-0.6,1.3,-0.8,1.4,1.0,2.3,-2.0,1.3,
 -2.0,-0.7,-1.0,1.6,-0.6,0.5,-0.6,1.6,2.0,1.3,
 2.5,2.7,2.4,2.6,2.8,
 2.6,2.4,2.8,2.5,
 2.5,2.7,2.6,
 0.5,1.6,-2.3,-1.5,-1.0,-0.4,0.9,-0.6,0.8,-0.8,
 0.7,-1.2,2.3,2.4,2.2,2.6,2.5,-0.6,1.0,-1.0];

const lisX = [-0.398,-0.373,-0.341,-0.315,-0.299,-0.267,-0.267,-0.24,-0.235,-0.203,
 -0.203,-0.203,-0.192,-0.181,-0.16,-0.16,-0.149,-0.128,-0.117,-0.123,
 -0.28,-0.2,-0.12,-0.04,0.04,0.12,
 -0.3,-0.22,-0.15,-0.07,0.01,0.09,0.17,0.24,
 -0.112,-0.107,-0.096,-0.085,-0.075,-0.064,-0.075,-0.061,-0.053,-0.053,
 -0.3,-0.22,-0.14,-0.06,0.02,0.1,0.18,
 -0.25,-0.17,-0.1,-0.02,0.06,0.14,0.21,
 -0.043,-0.032,-0.021,-0.011,-0.011,0,0.011,0.011,0.021,0.021,
 0.027,0.032,0.037,0.043,0.053,0.053,0.059,0.075,0.075,0.075,
 -0.1,-0.02,0.06,0.14,
 -0.02,0.07,0.15,0.22,
 0.085,0.096,0.096,0.096,0.112,0.117,0.117,0.123,0.128,0.139,
 -0.08,0.0,0.08,0.16,
 -0.06,0.03,0.1,0.18,
 0.144,0.149,0.149,0.16,0.16,0.165,0.181,0.181,0.187,0.203,
 0.03,0.1,0.06,0.13,
 0.203,0.213,0.224,0.229,0.229,0.229,0.256,0.261,0.283,0.299,
 0.315,0.355,-0.032,0.064,0.117,0.171,-0.25,-0.15,-0.05,0.03,
 -0.12,0,0.08,0.15,-0.02,0.12];
const lisY = [0.54,0.13,0.11,0.22,-0.06,0.28,-0.34,-0.67,0.28,0.39,
 -0.06,-0.67,-0.96,0.45,-1.35,-0.28,0.17,-0.51,-1.97,-2.47,
 0.3,0.25,0.35,0.45,0.7,0.6,
 0.15,0.15,0.15,0.15,0.15,0.15,0.15,0.15,
 0.51,-0.84,0.06,0.84,-1.18,-1.15,-0.39,-2.87,1.24,0.39,
 -0.15,-0.2,-0.1,-0.2,-0.15,-0.25,-0.1,
 -0.4,-0.4,-0.4,-0.4,-0.4,-0.4,-0.4,
 -0.73,-0.17,0.84,0.28,-1.29,1.52,-0.51,-0.96,1.97,0.84,
 -1.91,1.18,-0.06,-1.29,1.46,0.51,-0.73,1.85,1.29,-0.28,
 -0.65,-0.75,-0.95,-1.1,
 0.7,0.7,0.7,0.7,
 -1.07,0.84,0.28,-1.63,1.74,1.29,-0.51,-1.91,-1.29,0.84,
 -1.05,-1.2,-1.35,-1.5,
 -0.85,-0.85,-0.85,-0.85,
 -1.57,1.52,-0.06,0.51,-0.73,-2.87,-1.18,0.84,-2.62,1.4,
 1.05,1.0,1.6,1.15,
 -0.62,0.73,0.06,0.67,-3.48,-0.96,0.22,-0.73,-1.29,-0.22,
 -1.38,-2.7,1.63,0.11,0.06,-0.28,0,-0.1,0.1,0.4,
 0.3,-0.3,-0.55,-0.9,-0.6,0.35];
const lisC = [1.5,0.8,1.0,1.2,-0.5,0.8,-1.0,1.5,-0.8,-1.3,
 0.5,-2.4,2.5,-1.0,2.6,-0.5,-1.5,0.5,2.7,1.6,
 -0.6,-1.0,0.6,-1.3,-1.6,-2.2,
 0.8,-0.5,-0.8,0.6,-0.6,-1.0,-1.5,-2.0,
 -2.2,0.8,-0.6,-1.6,1.6,3.4,0.6,-1.0,-2.8,1.2,
 0.6,0.8,-0.5,0.9,-0.6,1.2,-0.8,
 -0.6,0.8,-0.6,0.5,1.5,2.2,1.6,
 1.5,-0.4,-1.6,0.6,2.0,-0.7,0.3,2.3,-3.0,-1.8,
 3.6,0.8,-1.8,1.8,-3.0,-2.0,2.0,-2.2,-2.5,-1.3,
 1.6,0.6,2.2,2.3,
 -1.2,-2.4,-2.0,-2.4,
 1.2,-2.0,-0.8,2.4,-2.3,-2.8,1.7,-0.8,2.5,-2.6,
 1.5,2.0,2.4,2.5,
 1.8,1.0,2.3,1.5,
 2.7,-2.2,-0.5,-2.3,2.2,-1.0,-1.2,-0.8,2.0,-2.2,
 -2.3,-2.6,-2.0,-1.8,
 2.1,-2.6,-1.4,-2.0,1.8,-0.6,-2.2,-2.0,-0.7,-1.9,
 -0.4,-0.4,-0.8,1.3,0.8,-0.6,0.6,-0.6,-1.0,-1.2,
 0.8,0.9,2.0,1.6,0.5,-1.6];

const graX = [-0.316,-0.259,-0.265,-0.254,-0.238,-0.227,-0.206,-0.206,-0.195,-0.185,
 -0.163,-0.163,-0.153,-0.153,-0.142,-0.126,-0.121,-0.121,-0.11,-0.099,
 -0.22,-0.15,-0.08,-0.02,
 -0.21,-0.14,-0.07,0.0,0.07,0.14,0.21,
 -0.099,-0.089,-0.078,-0.078,-0.067,-0.057,-0.057,-0.051,-0.046,-0.035,
 -0.24,-0.17,-0.1,-0.03,
 -0.22,-0.14,-0.07,0.0,0.08,0.15,0.22,
 -0.035,-0.025,-0.014,-0.009,-0.003,-0.003,0.007,0.013,0.018,0.029,
 -0.2,-0.13,-0.06,
 -0.2,-0.12,-0.05,0.02,0.1,0.17,
 0.029,0.039,0.05,0.055,0.061,0.061,0.066,0.071,0.071,0.087,
 -0.16,-0.09,-0.02,
 -0.14,-0.06,0.02,0.1,
 0.093,0.093,0.098,0.114,0.114,0.125,0.13,0.135,0.146,0.146,
 0.06,0.12,0.18,0.22,
 -0.1,-0.02,0.06,
 0.157,0.157,0.167,0.173,0.178,0.183,0.194,0.199,0.21,0.221,
 0.08,0.14,0.2,
 -0.08,0.0,0.08,
 0.237,0.237,0.242,0.253,0.247,0.301,0.306,0.322,-0.153,-0.174,
 0.06,0.12,0.18,
 -0.06,0.03,
 -0.067,-0.025,-0.2,-0.12,-0.05,-0.09,0,0.03,-0.06,0.04,
 -0.08,-0.02,0.04,-0.05,0.02,0.07,
 0.11,0.17,0.12,0.05,-0.17,0.08];
const graY = [-0.13,0.22,-0.62,-0.62,-0.06,-0.45,0.28,-0.73,0.56,-1.07,
 -1.63,0.17,0.62,-0.28,-1.18,0.56,-2.53,-0.73,-1.63,0.28,
 0.3,0.35,0.3,0.2,
 0.05,0.05,0.05,0.05,0.05,0.05,0.05,
 -1.97,-0.28,1.07,-1.07,-2.75,0.17,-1.4,-3.48,0.84,-0.51,
 -0.3,-0.15,-0.2,-0.35,
 -0.45,-0.45,-0.45,-0.45,-0.45,-0.45,-0.45,
 -2.3,-1.85,-0.96,-2.98,0.62,-3.54,-0.28,-2.53,-1.4,0.34,
 -0.85,-0.75,-0.9,
 -1.0,-1.0,-1.0,-1.0,-1.0,-1.0,
 -0.73,-1.97,0.17,-3.09,-1.07,-1.63,0.67,-0.39,-2.53,1.01,
 -1.25,-1.5,-1.2,
 -1.5,-1.5,-1.5,-1.5,
 -0.06,-1.18,-2.3,0.62,-1.85,-0.51,0.17,-1.07,1.35,-0.73,
 0.4,0.3,0.2,0.6,
 -2.0,-2.0,-2.0,
 0.51,-1.63,-0.06,-1.07,1.18,0.84,1.46,1.01,-0.28,1.24,
 -0.3,-0.2,-0.55,
 -2.5,-2.5,-2.5,
 -0.28,-1.8,0.79,0.67,0.28,-0.22,0.39,0.53,-0.62,-0.06,
 -0.9,-1.3,-1.05,
 -2.9,-2.9,
 -0.06,-0.73,-0.3,-0.45,-0.2,-1.3,-1.6,-2.2,-2.1,-2.8,
 -2.35,-2.0,-2.6,-3.1,-3.3,-2.1,
 -0.3,-0.5,-0.85,-0.5,-0.9,-1.45];
const graC = [-1.8,2.6,-0.6,-2.0,2.0,2.4,-1.3,1.5,-1.0,2.3,
 2.6,1.3,-2.3,0.8,0.6,-1.6,1.3,2.5,-0.6,-0.5,
 1.3,0.8,-0.6,1.5,
 2.2,1.2,-0.7,0.6,-1.2,-2.0,-1.8,
 2.4,1.0,-0.8,1.4,0.6,1.6,0.7,1.3,-1.5,-0.5,
 2.2,1.8,2.4,1.0,
 2.0,1.5,0.8,1.2,-0.8,-1.6,-2.3,
 -0.6,1.0,0.5,1.4,-2.4,-1.0,0.6,0.8,-0.6,-3.0,
 2.3,1.6,0.8,
 1.6,2.2,1.0,-0.6,-1.8,-1.4,
 1.8,1.0,-0.8,-0.8,-1.0,-2.2,0.6,-1.2,1.2,-1.0,
 1.0,2.2,0.6,
 1.0,1.5,-0.8,-1.2,
 -1.6,-0.5,-1.8,-2.2,2.6,-1.8,-2.8,-1.4,-0.5,-2.3,
 -1.5,-2.0,-2.4,-1.8,
 0.8,1.2,-1.0,
 -2.0,-1.2,-1.6,-2.0,-2.5,-1.3,-2.3,-2.9,-1.6,-2.6,
 -1.2,-2.2,-1.6,
 0.6,1.3,0.8,
 -2.0,-2.7,-3.0,-1.0,-2.2,-1.7,-2.4,-2.3,-0.8,0.7,
 -0.8,-1.5,-2.2,
 1.2,0.6,
 -0.7,1.3,1.7,2.3,0.8,1.2,0.8,1.1,0.5,1.0,
 1.0,0.6,1.2,0.8,-0.6,0.5,
 -1.5,-2.2,-1.7,-0.6,1.8,-0.8];

// ---------------- LAYOUT ----------------
const W = 1228, H = 842;
const colL = [100, 427, 752], colR = [413, 741, 1067];
const rowT = [45, 306, 566], rowB = [255, 515, 773];
const cmin = -3.15, cmax = 4.05;
const cbTop = 47, cbBot = 773, cbLeft = 1078, cbW = 22;

const panels = [[marsX,marsY,marsC],[vlieX,vlieY,vlieC],[pinkX,pinkY,pinkC],
                [otzX,otzY,otzC],[jadeX,jadeY,jadeC],[sudX,sudY,sudC],
                [hornX,hornY,hornC],[lisX,lisY,lisC],[graX,graY,graC]];

// discrete colourscale (bands listed top -> bottom)
const nb = bandColors.length;
const scale = [];
bandColors.slice().reverse().forEach((c,i)=>{ scale.push([i/nb, c]); scale.push([(i+1)/nb, c]); });

const ink = '#231f20';
const tickFont = {family:'Liberation Sans, Arial, sans-serif', size:22, color:ink};
const data = [];
const layout = {
  width: W, height: H,
  margin: {l:0, r:0, t:0, b:0, autoexpand:false},
  paper_bgcolor:'#fff', plot_bgcolor:'#fff',
  showlegend:false,
  coloraxis: {
    colorscale: scale, cmin: cmin, cmax: cmax,
    colorbar: {
      x: cbLeft/W, xanchor:'left', y: 1-(cbTop+cbBot)/2/H, yanchor:'middle',
      len: (cbBot-cbTop)/H, lenmode:'fraction', thickness: cbW, thicknessmode:'pixels',
      outlinewidth: 3, outlinecolor: ink, xpad:0, ypad:0,
      tickvals: cbLevels, ticktext: cbLabels, ticks:'',
      tickfont: {family:'Liberation Sans, Arial, sans-serif', size:27, color:ink}
    }
  },
  annotations: [], shapes: []
};

panels.forEach((p,k)=>{
  const r = Math.floor(k/3), c = k%3;
  const sfx = k ? String(k+1) : '';
  data.push({type:'scatter', mode:'markers', x:p[0], y:p[1], xaxis:'x'+sfx, yaxis:'y'+sfx,
    marker:{color:p[2], coloraxis:'coloraxis', size:11, opacity:1, line:{width:0}},
    hoverinfo:'skip'});
  layout['xaxis'+sfx] = {
    domain:[colL[c]/W, colR[c]/W], anchor:'y'+sfx, range:[-0.5,0.5],
    tickmode:'array', tickvals:xTickVals, ticktext:xTickText, showticklabels: r===2,
    ticks:'', tickfont:tickFont, ticklabelstandoff: 0,
    showgrid:true, gridcolor:ink, gridwidth:1.6, griddash:'2px,4px',
    zeroline:true, zerolinecolor:ink, zerolinewidth:3.5,
    showline:true, mirror:true, linecolor:ink, linewidth:3.5,
    fixedrange:true, automargin:false
  };
  layout['yaxis'+sfx] = {
    domain:[1-rowB[r]/H, 1-rowT[r]/H], anchor:'x'+sfx, range:[-4,3],
    tickmode:'array', tickvals:yTickVals, ticktext:yTickText, showticklabels: c===0,
    ticks:'', tickfont:tickFont, ticklabelstandoff: 2,
    showgrid:true, gridcolor:ink, gridwidth:1.6, griddash:'2px,4px',
    zeroline:true, zerolinecolor:ink, zerolinewidth:3.5,
    showline:true, mirror:true, linecolor:ink, linewidth:3.5,
    fixedrange:true, automargin:false
  };
  // panel title
  layout.annotations.push({text: panelNames[k], xref:'paper', yref:'paper',
    x:(colL[c]+colR[c])/2/W, y:1-(rowT[r]-23)/H, xanchor:'center', yanchor:'middle',
    showarrow:false, font:{family:'DejaVu Serif, Liberation Serif, serif', size:21, color:ink}});
});

// y-axis titles (left column)
for (let r=0;r<3;r++){
  layout.annotations.push({text:'\u2202<sub>\u22a5</sub>\u03c1 (10<sup>4</sup> kg/m<sup>3</sup>/m)',
    xref:'paper', yref:'paper', x:30/W, y:1-(rowT[r]+rowB[r])/2/H, xanchor:'center', yanchor:'middle',
    textangle:-90, showarrow:false, font:{family:'Liberation Sans, Arial, sans-serif', size:26, color:ink}});
}
// x-axis titles (bottom row)
for (let c=0;c<3;c++){
  layout.annotations.push({text:'\u03c4<sub>\u22a5</sub> (N/m<sup>2</sup>)',
    xref:'paper', yref:'paper', x:((colL[c]+colR[c])/2+4)/W, y:1-825/H, xanchor:'center', yanchor:'middle',
    showarrow:false, font:{family:'Liberation Sans, Arial, sans-serif', size:26, color:ink}});
}
// colourbar title
layout.annotations.push({text:'M (m/s)', xref:'paper', yref:'paper', x:1213/W, y:1-410/H,
  xanchor:'center', yanchor:'middle', textangle:-90, showarrow:false,
  font:{family:'Liberation Sans, Arial, sans-serif', size:28, color:ink}});

// dashed tick marks across the colourbar at the labelled levels
cbLevels.forEach(v=>{
  const ypx = cbTop + (cmax - v)/(cmax - cmin)*(cbBot - cbTop);
  layout.shapes.push({type:'line', xref:'paper', yref:'paper',
    x0:(cbLeft+1)/W, x1:(cbLeft+cbW-1)/W, y0:1-ypx/H, y1:1-ypx/H,
    line:{color:ink, width:2.5, dash:'7px,5px'}});
});

Plotly.newPlot('chart', data, layout, {staticPlot:true, displayModeBar:false});
</script>
</body>
</html>
